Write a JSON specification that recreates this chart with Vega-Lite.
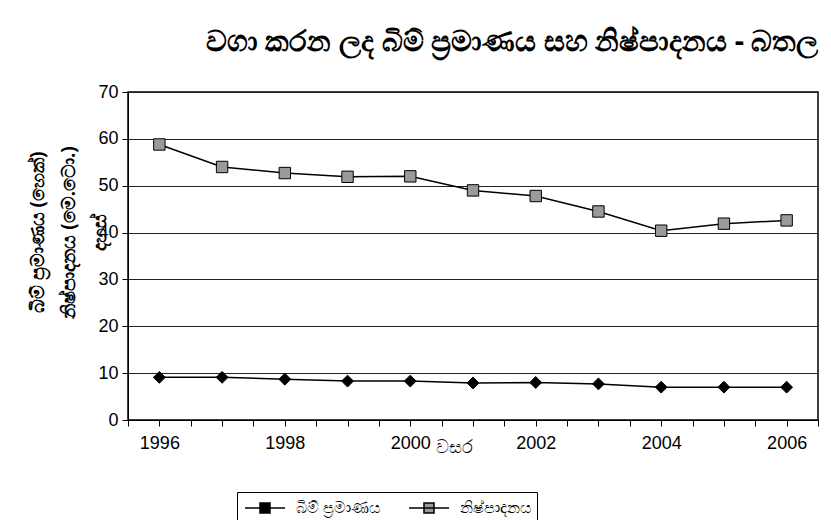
{
  "$schema": "https://vega.github.io/schema/vega-lite/v6.json",
  "width": 690,
  "height": 328,
  "autosize": {"type": "none"},
  "padding": {"left": 128, "top": 92, "right": 13, "bottom": 100},
  "background": "white",
  "title": {
    "text": "වගා කරන ලද බිම් ප්‍රමාණය සහ  නිෂ්පාදනය  - බතල",
    "anchor": "end",
    "fontSize": 29,
    "fontWeight": "bold",
    "font": "Noto Sans",
    "color": "black",
    "offset": 26
  },
  "config": {
    "view": {"stroke": "black", "strokeWidth": 1.5},
    "axis": {"labelFont": "Liberation Sans", "labelFontSize": 18, "labelColor": "black", "tickColor": "black", "domainColor": "black", "titleColor": "black"}
  },
  "data": {
    "values": [
      {"year": 1996, "series": "බිම් ප්‍රමාණය", "value": 9.1},
      {"year": 1997, "series": "බිම් ප්‍රමාණය", "value": 9.1},
      {"year": 1998, "series": "බිම් ප්‍රමාණය", "value": 8.7},
      {"year": 1999, "series": "බිම් ප්‍රමාණය", "value": 8.3},
      {"year": 2000, "series": "බිම් ප්‍රමාණය", "value": 8.3},
      {"year": 2001, "series": "බිම් ප්‍රමාණය", "value": 7.9},
      {"year": 2002, "series": "බිම් ප්‍රමාණය", "value": 8.0},
      {"year": 2003, "series": "බිම් ප්‍රමාණය", "value": 7.7},
      {"year": 2004, "series": "බිම් ප්‍රමාණය", "value": 7.0},
      {"year": 2005, "series": "බිම් ප්‍රමාණය", "value": 7.0},
      {"year": 2006, "series": "බිම් ප්‍රමාණය", "value": 7.0},
      {"year": 1996, "series": "නිෂ්පාදනය", "value": 58.8},
      {"year": 1997, "series": "නිෂ්පාදනය", "value": 54.0},
      {"year": 1998, "series": "නිෂ්පාදනය", "value": 52.7},
      {"year": 1999, "series": "නිෂ්පාදනය", "value": 51.9},
      {"year": 2000, "series": "නිෂ්පාදනය", "value": 52.0},
      {"year": 2001, "series": "නිෂ්පාදනය", "value": 49.0},
      {"year": 2002, "series": "නිෂ්පාදනය", "value": 47.8},
      {"year": 2003, "series": "නිෂ්පාදනය", "value": 44.5},
      {"year": 2004, "series": "නිෂ්පාදනය", "value": 40.4},
      {"year": 2005, "series": "නිෂ්පාදනය", "value": 41.9},
      {"year": 2006, "series": "නිෂ්පාදනය", "value": 42.6}
    ]
  },
  "encoding": {
    "x": {
      "field": "year",
      "type": "quantitative",
      "scale": {"domain": [1995.5, 2006.5], "nice": false, "zero": false},
      "axis": {
        "values": [1995.5, 1996, 1996.5, 1997, 1997.5, 1998, 1998.5, 1999, 1999.5, 2000, 2000.5, 2001, 2001.5, 2002, 2002.5, 2003, 2003.5, 2004, 2004.5, 2005, 2005.5, 2006, 2006.5],
        "tickCount": 40,
        "labelExpr": "datum.value % 2 == 0 ? format(datum.value, 'd') : ''",
        "grid": false,
        "tickSize": 6,
        "labelPadding": 8,
        "labelFlush": false,
        "labelOverlap": false,
        "title": "වසර",
        "titleFont": "Noto Sans",
        "titleFontSize": 18,
        "titleFontWeight": "normal",
        "titleAlign": "left",
        "titleX": 307,
        "titleY": 27,
        "titleBaseline": "middle"
      }
    },
    "y": {
      "field": "value",
      "type": "quantitative",
      "scale": {"domain": [0, 70], "nice": false},
      "axis": {
        "values": [0, 10, 20, 30, 40, 50, 60, 70],
        "grid": true,
        "gridColor": "#222222",
        "gridWidth": 1,
        "tickSize": 6,
        "labelPadding": 4,
        "title": ["බිම් ප්‍රමාණය (හෙක්)", "නිෂ්පාදනය (මෙ.ටො.)", "දහස්"],
        "titleFont": "Noto Sans",
        "titleFontSize": 19,
        "titleFontWeight": "bold",
        "titleLineHeight": 31,
        "titlePadding": -12,
        "titleY": 140
      }
    },
    "color": {
      "field": "series",
      "scale": {"domain": ["බිම් ප්‍රමාණය", "නිෂ්පාදනය"], "range": ["black", "#9a9a9a"]},
      "legend": {
        "title": null,
        "orient": "none",
        "legendX": 109,
        "legendY": 400,
        "direction": "horizontal",
        "strokeColor": "black",
        "padding": 5,
        "labelFont": "Noto Sans",
        "labelFontSize": 16,
        "labelColor": "black",
        "symbolSize": 400,
        "symbolOffset": 12,
        "symbolType": "M-2,0L2,0M-0.5,-0.5L0.5,-0.5L0.5,0.5L-0.5,0.5Z",
        "symbolStrokeColor": "black",
        "symbolStrokeWidth": 1.5,
        "columnPadding": 24,
        "labelOffset": 20
      }
    }
  },
  "layer": [
    {
      "mark": {"type": "line", "strokeWidth": 1.5},
      "encoding": {"detail": {"field": "series"}, "color": {"value": "black"}}
    },
    {
      "transform": [{"filter": "datum.series == 'බිම් ප්‍රමාණය'"}],
      "mark": {"type": "point", "shape": "diamond", "filled": true, "stroke": "black", "strokeWidth": 1, "opacity": 1, "size": 140}
    },
    {
      "transform": [{"filter": "datum.series == 'නිෂ්පාදනය'"}],
      "mark": {"type": "point", "shape": "square", "filled": true, "stroke": "black", "strokeWidth": 1, "opacity": 1, "size": 130}
    }
  ]
}
